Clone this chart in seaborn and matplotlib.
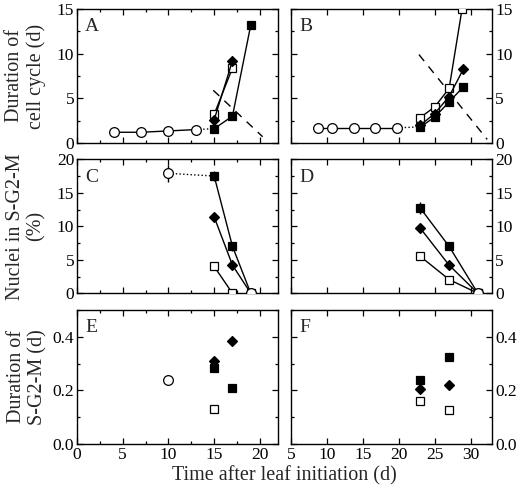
import pandas as pd
import seaborn as sns
import matplotlib.pyplot as plt
from matplotlib.ticker import MultipleLocator

# A: duration of cell cycle (leaf 1)
a_circ_x = [4, 7, 10, 13]
a_circ_y = [1.2, 1.2, 1.35, 1.5]
a_fsq_x = [15, 17, 19]
a_fsq_y = [1.6, 3.0, 13.2]
a_dia_x = [15, 17]
a_dia_y = [2.6, 9.2]
a_osq_x = [15, 17]
a_osq_y = [3.2, 8.4]
a_dash_x = [14.9, 20.3]
a_dash_y = [5.9, 0.7]

# B: duration of cell cycle (leaf 2)
b_circ_x = [8.7, 10.7, 13.7, 16.7, 19.8]
b_circ_y = [1.7, 1.7, 1.7, 1.7, 1.7]
b_fsq_x = [23, 25, 27, 29]
b_fsq_y = [1.8, 2.9, 4.6, 6.3]
b_dia_x = [23, 25, 27, 29]
b_dia_y = [2.0, 3.3, 5.2, 8.3]
b_osq_x = [23, 25, 27, 28.8]
b_osq_y = [2.85, 4.05, 6.1, 15.0]
b_dash_x = [22.8, 32.3]
b_dash_y = [9.9, 0.4]

# C: nuclei in S-G2-M (leaf 1)
c_circ_x = [10]
c_circ_y = [17.9]
c_circ_err = [1.3]
c_fsq_x = [15, 17, 19]
c_fsq_y = [17.5, 7.0, 0.0]
c_fsq_err = [0.8, 0.7, 0.0]
c_dia_x = [15, 17, 19]
c_dia_y = [11.4, 4.2, 0.0]
c_osq_x = [15, 17]
c_osq_y = [4.0, 0.0]
c_end_x = [19]
c_end_y = [0.0]

# D: nuclei in S-G2-M (leaf 2)
d_fsq_x = [23, 27, 31]
d_fsq_y = [12.7, 7.0, 0.0]
d_fsq_err = [0.9, 0.5, 0.0]
d_dia_x = [23, 27, 31]
d_dia_y = [9.7, 4.2, 0.0]
d_osq_x = [23, 27, 31]
d_osq_y = [5.5, 2.05, 0.0]
d_end_x = [31]
d_end_y = [0.0]

# E, F: duration of S-G2-M
e_circ_x = [10]
e_circ_y = [0.237]
e_dia_x = [15, 17]
e_dia_y = [0.309, 0.384]
e_fsq_x = [15, 17]
e_fsq_y = [0.284, 0.209]
e_osq_x = [15]
e_osq_y = [0.130]

f_fsq_x = [23, 27]
f_fsq_y = [0.239, 0.324]
f_dia_x = [23, 27]
f_dia_y = [0.206, 0.219]
f_osq_x = [23, 27]
f_osq_y = [0.161, 0.125]

sns.set_style('ticks')
plt.rcParams['font.family'] = ['Liberation Serif', 'DejaVu Serif']

STY = {
    'circ': dict(marker='o', markersize=7, markerfacecolor='white'),
    'fsq': dict(marker='s', markersize=5.5, markerfacecolor='black'),
    'osq': dict(marker='s', markersize=5.5, markerfacecolor='white'),
    'dia': dict(marker='D', markersize=5.5, markerfacecolor='black'),
}


def draw(ax, x, y, kind, ls='-'):
    sns.lineplot(x=x, y=y, ax=ax, color='black', lw=1, linestyle=ls,
                 markeredgecolor='black', markeredgewidth=0.9,
                 sort=False, zorder=3, **STY[kind])


def line(ax, x, y, ls):
    sns.lineplot(x=x, y=y, ax=ax, color='black', lw=1, linestyle=ls,
                 sort=False, zorder=2)


fig = plt.figure(figsize=(5.2, 4.88), dpi=100)
L1, W = 0.148, 0.387
L2 = 0.5596
H = 0.2746
ax_a = fig.add_axes([L1, 0.707, W, H])
ax_b = fig.add_axes([L2, 0.707, W, H])
ax_c = fig.add_axes([L1, 0.399, W, H])
ax_d = fig.add_axes([L2, 0.399, W, H])
ax_e = fig.add_axes([L1, 0.0902, W, H])
ax_f = fig.add_axes([L2, 0.0902, W, H])

# A
line(ax_a, a_dash_x, a_dash_y, (0, (6, 5)))
line(ax_a, [a_circ_x[-1], a_fsq_x[0]], [a_circ_y[-1], a_fsq_y[0]], ':')
draw(ax_a, a_circ_x, a_circ_y, 'circ')
draw(ax_a, a_osq_x, a_osq_y, 'osq')
draw(ax_a, a_dia_x, a_dia_y, 'dia')
draw(ax_a, a_fsq_x, a_fsq_y, 'fsq')

# B
line(ax_b, b_dash_x, b_dash_y, (0, (6, 5)))
line(ax_b, [b_circ_x[-1], b_fsq_x[0]], [b_circ_y[-1], b_fsq_y[0]], ':')
draw(ax_b, b_circ_x, b_circ_y, 'circ')
draw(ax_b, b_osq_x, b_osq_y, 'osq')
draw(ax_b, b_dia_x, b_dia_y, 'dia')
draw(ax_b, b_fsq_x, b_fsq_y, 'fsq')

# C
ax_c.errorbar(c_circ_x, c_circ_y, yerr=c_circ_err, fmt='none', ecolor='black', lw=1, zorder=2)
ax_c.errorbar(c_fsq_x, c_fsq_y, yerr=c_fsq_err, fmt='none', ecolor='black', lw=1, zorder=2)
line(ax_c, [c_circ_x[0], c_fsq_x[0]], [c_circ_y[0], c_fsq_y[0]], ':')
draw(ax_c, c_circ_x, c_circ_y, 'circ')
draw(ax_c, c_fsq_x, c_fsq_y, 'fsq')
draw(ax_c, c_dia_x, c_dia_y, 'dia')
draw(ax_c, c_osq_x, c_osq_y, 'osq')
draw(ax_c, c_end_x, c_end_y, 'circ', ls='')

# D
ax_d.errorbar(d_fsq_x, d_fsq_y, yerr=d_fsq_err, fmt='none', ecolor='black', lw=1, zorder=2)
draw(ax_d, d_fsq_x, d_fsq_y, 'fsq')
draw(ax_d, d_dia_x, d_dia_y, 'dia')
draw(ax_d, d_osq_x, d_osq_y, 'osq')
draw(ax_d, d_end_x, d_end_y, 'circ', ls='')

# E
draw(ax_e, e_circ_x, e_circ_y, 'circ', ls='')
draw(ax_e, e_dia_x, e_dia_y, 'dia', ls='')
draw(ax_e, e_fsq_x, e_fsq_y, 'fsq', ls='')
draw(ax_e, e_osq_x, e_osq_y, 'osq', ls='')

# F
draw(ax_f, f_fsq_x, f_fsq_y, 'fsq', ls='')
draw(ax_f, f_dia_x, f_dia_y, 'dia', ls='')
draw(ax_f, f_osq_x, f_osq_y, 'osq', ls='')

ylims = [(0, 15, 5, 2.5), (0, 20, 5, 2.5), (0, 0.5, 0.2, 0.1)]
rows = [(ax_a, ax_b), (ax_c, ax_d), (ax_e, ax_f)]
for r, (left, right) in enumerate(rows):
    lo, hi, maj, mnr = ylims[r]
    for ax in (left, right):
        ax.set_ylim(lo, hi)
        ax.yaxis.set_major_locator(MultipleLocator(maj))
        ax.yaxis.set_minor_locator(MultipleLocator(mnr))
        ax.set_xlabel('')
        ax.set_ylabel('')
        for s in ax.spines.values():
            s.set_visible(True)
            s.set_linewidth(1)
            s.set_color('black')
        ax.tick_params(which='both', direction='in', top=True, bottom=True,
                       left=True, right=True, labelsize=12.5, pad=2,
                       colors='black')
        ax.tick_params(which='major', length=4, width=0.9)
        ax.tick_params(which='minor', length=2.5, width=0.9)
    left.set_xlim(0, 22)
    left.xaxis.set_major_locator(MultipleLocator(5))
    left.xaxis.set_minor_locator(MultipleLocator(2.5))
    right.set_xlim(5, 33)
    right.xaxis.set_major_locator(MultipleLocator(5))
    left.tick_params(labelleft=True, labelright=False)
    right.tick_params(labelleft=False, labelright=True)
    bottom = r == 2
    left.tick_params(labelbottom=bottom)
    right.tick_params(labelbottom=bottom)

for ax in (ax_e, ax_f):
    ax.yaxis.set_major_formatter(plt.FormatStrFormatter('%.1f'))

for ax, lab in zip([ax_a, ax_b, ax_c, ax_d, ax_e, ax_f], 'ABCDEF'):
    ax.text(0.04, 0.93, lab, transform=ax.transAxes, fontsize=14,
            ha='left', va='top')

ax_a.set_ylabel('Duration of\ncell cycle (d)', fontsize=14.5, labelpad=8, linespacing=1.1)
ax_c.set_ylabel('Nuclei in S-G2-M\n(%)', fontsize=14.5, labelpad=8, linespacing=1.1)
ax_e.set_ylabel('Duration of\nS-G2-M (d)', fontsize=14.5, labelpad=4, linespacing=1.1)
fig.text(0.547, 0.016, 'Time after leaf initiation (d)', fontsize=14.5,
         ha='center', va='baseline')

fig.savefig('out.png', dpi=100)
